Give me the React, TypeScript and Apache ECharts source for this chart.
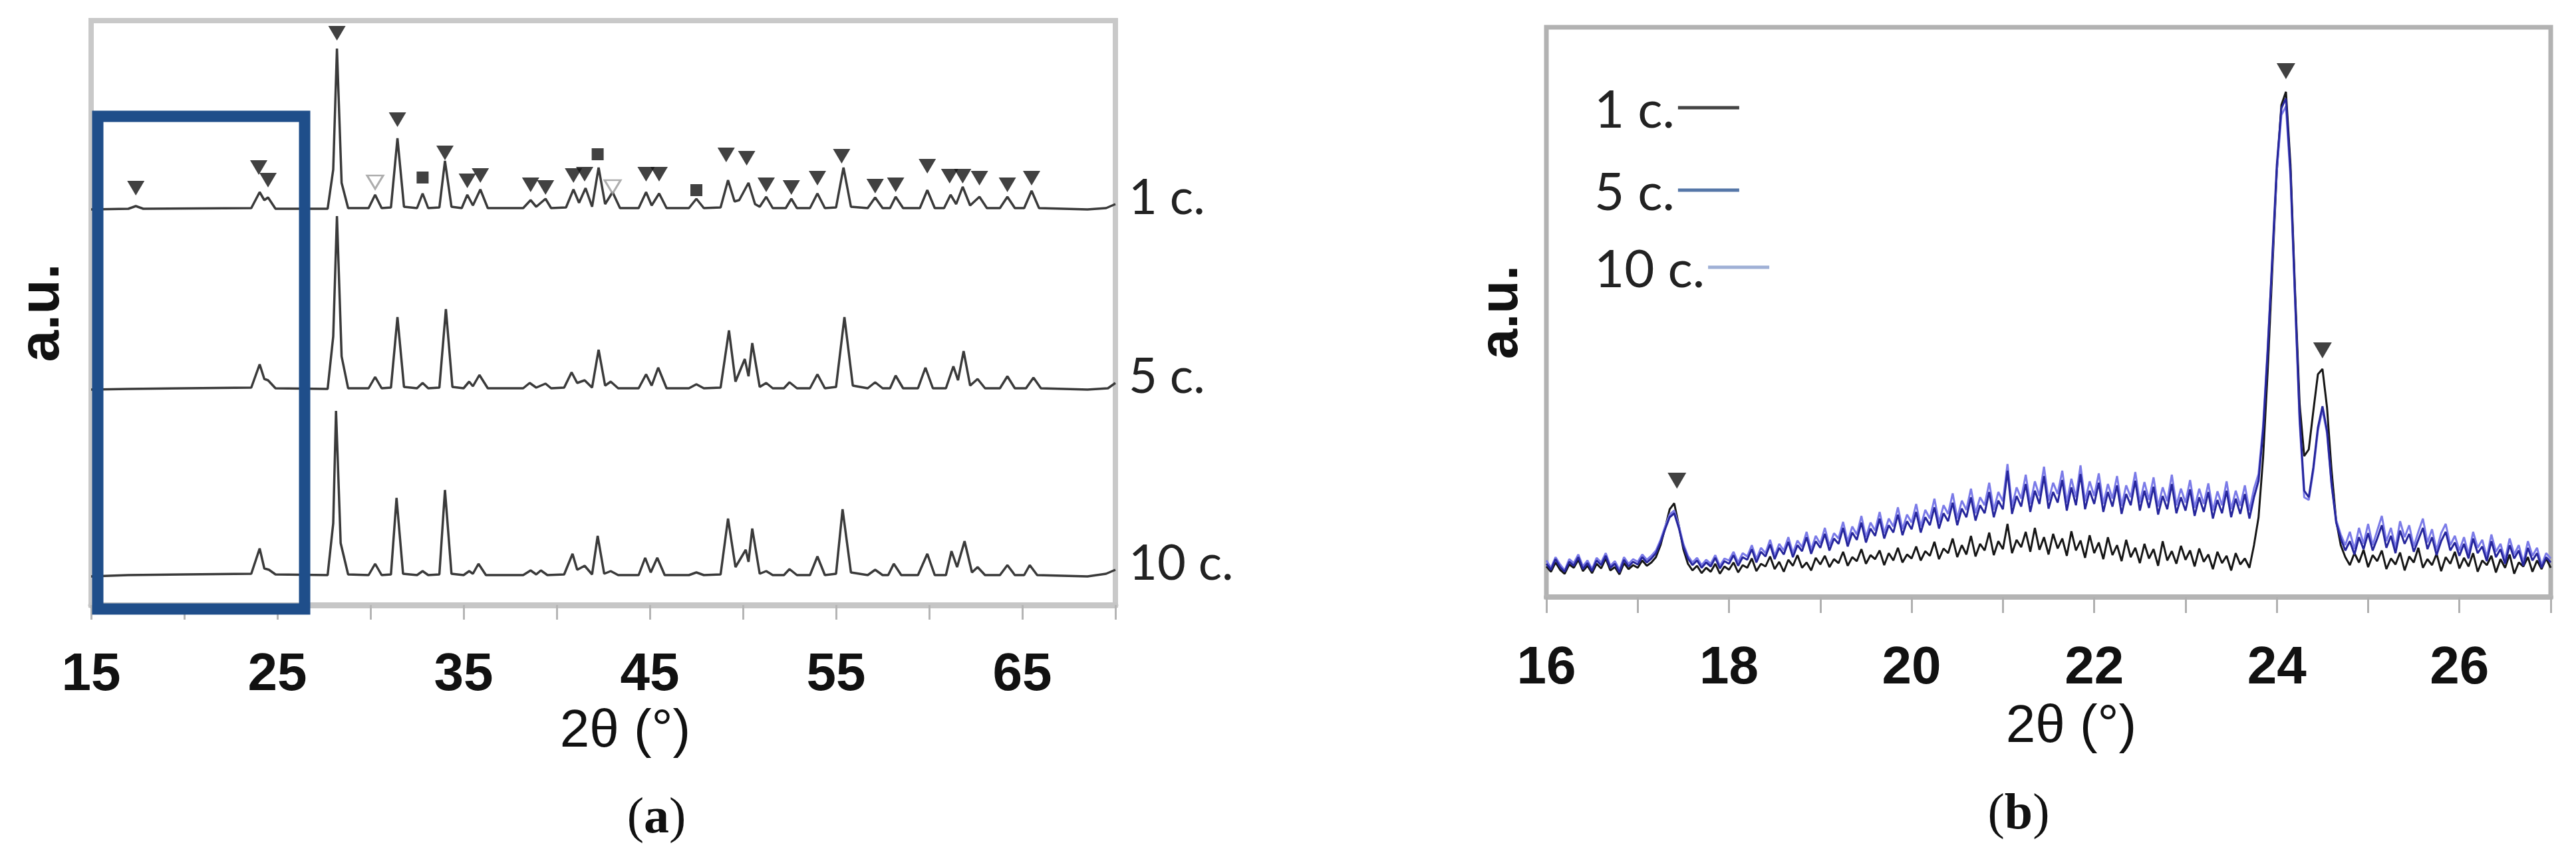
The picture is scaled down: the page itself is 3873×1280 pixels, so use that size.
import React, { useEffect, useRef } from 'react';
import * as echarts from 'echarts';

// ---------- Panel (a): wide-range XRD patterns (2θ, intensity above own baseline) ----------
const A_NAMES = ['1 c.', '5 c.', '10 c.'];
const A_OFFSETS = [595, 324, 43];

const A_1C: [number, number][] = [
  [15.0, 0], [17.0, 1], [17.4, 5], [17.8, 1], [23.6, 2], [24.05, 26], [24.3, 14], [24.5, 18], [24.9, 1],
  [27.7, 1], [28.0, 60], [28.2, 242], [28.45, 40], [28.8, 2], [29.9, 2], [30.25, 22], [30.6, 2], [31.1, 3],
  [31.45, 107], [31.8, 4], [32.5, 2], [32.8, 24], [33.1, 2], [33.7, 3], [34.0, 73], [34.35, 4], [34.9, 2],
  [35.2, 22], [35.5, 6], [35.9, 30], [36.3, 2], [38.2, 2], [38.6, 14], [38.9, 4], [39.4, 16], [39.7, 2],
  [40.5, 3], [40.9, 30], [41.2, 10], [41.55, 32], [41.9, 4], [42.25, 63], [42.6, 8], [43.0, 26], [43.4, 2],
  [44.4, 2], [44.8, 26], [45.1, 6], [45.5, 24], [45.9, 2], [47.1, 2], [47.5, 16], [47.9, 2], [48.8, 3],
  [49.2, 44], [49.55, 12], [49.8, 14], [50.3, 40], [50.65, 8], [50.9, 4], [51.25, 19], [51.6, 2], [52.3, 2],
  [52.6, 16], [52.9, 2], [53.6, 2], [54.0, 24], [54.4, 2], [55.0, 3], [55.4, 63], [55.8, 4], [56.7, 2],
  [57.1, 18], [57.5, 2], [57.9, 2], [58.2, 19], [58.6, 2], [59.5, 2], [59.9, 29], [60.3, 2], [60.8, 2],
  [61.15, 22], [61.45, 8], [61.8, 34], [62.2, 6], [62.7, 19], [63.1, 2], [63.8, 2], [64.2, 19], [64.6, 2],
  [65.1, 2], [65.5, 28], [65.9, 2], [68.5, 0], [69.5, 2], [70.0, 8],
];

const A_5C: [number, number][] = [
  [15.0, 0], [17.0, 1], [23.6, 3], [24.05, 38], [24.3, 16], [24.5, 14], [24.9, 2], [27.7, 1], [28.0, 80],
  [28.2, 261], [28.45, 50], [28.8, 2], [29.9, 2], [30.25, 19], [30.6, 2], [31.1, 3], [31.45, 109], [31.8, 4],
  [32.5, 2], [32.8, 10], [33.1, 2], [33.7, 3], [34.05, 121], [34.4, 4], [35.0, 2], [35.3, 12], [35.5, 5],
  [35.85, 22], [36.3, 2], [38.2, 2], [38.55, 10], [38.9, 3], [39.4, 9], [39.7, 2], [40.4, 3], [40.8, 26],
  [41.1, 10], [41.5, 14], [41.9, 3], [42.25, 60], [42.6, 6], [42.9, 12], [43.3, 2], [44.4, 2], [44.8, 23],
  [45.1, 6], [45.45, 33], [45.9, 2], [47.1, 2], [47.5, 8], [47.9, 2], [48.8, 3], [49.25, 89], [49.6, 12],
  [50.1, 46], [50.3, 20], [50.5, 70], [50.9, 4], [51.25, 10], [51.6, 2], [52.2, 2], [52.5, 11], [52.9, 2],
  [53.6, 2], [54.0, 23], [54.4, 2], [55.0, 4], [55.45, 109], [55.9, 6], [56.7, 2], [57.1, 11], [57.5, 2],
  [57.9, 2], [58.2, 21], [58.6, 2], [59.4, 2], [59.8, 33], [60.2, 2], [60.9, 2], [61.3, 35], [61.55, 14],
  [61.85, 58], [62.2, 6], [62.6, 16], [63.0, 2], [63.8, 2], [64.2, 20], [64.6, 2], [65.2, 2], [65.6, 18],
  [66.0, 2], [68.5, 0], [69.6, 2], [70.0, 10],
];

const A_10C: [number, number][] = [
  [15.0, 0], [17.0, 2], [20.0, 3], [23.6, 4], [24.05, 42], [24.3, 12], [24.55, 10], [24.9, 3], [27.7, 2],
  [28.0, 80], [28.15, 249], [28.4, 50], [28.8, 3], [29.9, 2], [30.25, 19], [30.6, 2], [31.1, 3], [31.4, 118],
  [31.75, 4], [32.5, 2], [32.8, 8], [33.1, 2], [33.7, 3], [34.0, 130], [34.35, 4], [35.0, 2], [35.3, 8],
  [35.5, 4], [35.8, 19], [36.2, 2], [38.2, 2], [38.6, 9], [38.9, 3], [39.15, 9], [39.5, 2], [40.4, 3],
  [40.85, 34], [41.1, 10], [41.5, 16], [41.9, 3], [42.2, 61], [42.55, 4], [42.9, 8], [43.3, 2], [44.4, 2],
  [44.75, 28], [45.05, 6], [45.4, 28], [45.8, 2], [47.1, 2], [47.5, 6], [47.9, 2], [48.8, 3], [49.2, 87],
  [49.6, 14], [50.15, 40], [50.3, 22], [50.5, 72], [50.9, 4], [51.25, 8], [51.6, 2], [52.2, 2], [52.5, 11],
  [52.9, 2], [53.6, 2], [54.0, 30], [54.4, 2], [55.0, 4], [55.35, 101], [55.8, 6], [56.7, 2], [57.1, 10],
  [57.5, 2], [57.8, 2], [58.1, 19], [58.5, 2], [59.4, 2], [59.9, 34], [60.3, 2], [60.9, 2], [61.2, 38],
  [61.5, 14], [61.9, 53], [62.3, 6], [62.6, 14], [63.0, 2], [63.8, 2], [64.2, 17], [64.6, 2], [65.1, 2],
  [65.4, 17], [65.8, 2], [68.5, 0], [69.5, 4], [70.0, 10],
];

// phase markers for the 1 c. pattern (2θ, height on the panel's scale)
const A_MARK_TRI: [number, number][] = [
  [17.4, 627], [24.0, 658], [24.5, 639], [28.2, 860], [31.45, 730], [34.0, 680], [35.2, 638], [35.9, 646],
  [38.6, 632], [39.4, 628], [40.9, 646], [41.5, 648], [44.8, 648], [45.5, 648], [49.1, 677], [50.2, 672],
  [51.25, 632], [52.6, 628], [54.0, 642], [55.3, 675], [57.1, 630], [58.2, 632], [59.9, 660], [61.1, 645],
  [61.8, 645], [62.7, 642], [64.2, 632], [65.5, 642],
];
const A_MARK_SQ: [number, number][] = [[32.8, 643], [42.2, 678], [47.5, 624]];
const A_MARK_OPEN: [number, number][] = [[30.25, 636], [43.0, 629]];

const A_TICK_LABELS = [15, 25, 35, 45, 55, 65];

// ---------- Panel (b): 16–27° detail, sampled every 0.05° ----------
const B_START = 16;
const B_STEP = 0.05;
const B_NAMES = ['1 c.', '5 c.', '10 c.'];

const B_1C = [
  46, 38, 52, 41, 35, 49, 44, 56, 39, 47, 36, 50, 43, 58, 40, 45, 34, 51, 42, 48,
  44, 55, 47, 52, 60, 78, 104, 132, 141, 108, 72, 50, 40, 47, 36, 44, 38, 50, 35, 46,
  41, 52, 37, 48, 44, 58, 39, 50, 46, 61, 42, 53, 38, 56, 47, 63, 44, 52, 40, 59,
  49, 62, 45, 57, 51, 68, 47, 60, 54, 72, 50, 63, 57, 70, 48, 66, 55, 74, 52, 64,
  58, 76, 55, 69, 62, 83, 57, 73, 66, 88, 60, 78, 64, 92, 61, 80, 70, 97, 63, 84,
  72, 110, 66, 86, 75, 98, 68, 104, 71, 90, 64, 95, 73, 88, 62, 99, 70, 85, 59, 93,
  66, 82, 57, 90, 63, 78, 54, 86, 60, 74, 51, 80, 58, 72, 47, 84, 55, 69, 50, 77,
  56, 70, 46, 73, 53, 64, 42, 68, 51, 62, 40, 66, 49, 58, 44, 78, 120, 210, 340, 490,
  640, 740, 760, 650, 460, 290, 212, 222, 280, 335, 343, 285, 190, 115, 78, 60, 48, 66, 52, 71,
  45, 63, 54, 70, 42, 58, 49, 67, 40, 61, 52, 74, 44, 57, 48, 65, 39, 60, 50, 68,
  43, 59, 46, 66, 38, 55, 48, 62, 37, 57, 44, 64, 35, 52, 46, 60, 38, 55, 42, 58,
  44,
];

const B_5C = [
  50, 41, 57, 45, 38, 53, 47, 60, 42, 51, 39, 55, 48, 62, 44, 50, 37, 56, 46, 53,
  49, 60, 52, 58, 66, 82, 102, 120, 126, 104, 76, 58, 48, 55, 44, 52, 46, 59, 43, 54,
  50, 63, 47, 60, 56, 72, 52, 68, 61, 79, 57, 74, 64, 83, 60, 78, 69, 90, 65, 84,
  74, 95, 70, 88, 80, 104, 76, 97, 86, 112, 82, 103, 92, 118, 88, 108, 97, 124, 93, 114,
  102, 128, 97, 120, 108, 135, 103, 126, 114, 142, 108, 133, 120, 150, 115, 138, 126, 158, 120, 145,
  132, 190, 125, 152, 136, 170, 128, 160, 140, 182, 133, 158, 142, 176, 130, 165, 138, 185, 132, 160,
  140, 172, 128, 158, 136, 168, 125, 155, 138, 175, 130, 160, 134, 166, 124, 152, 132, 170, 126, 150,
  130, 162, 122, 150, 128, 158, 118, 146, 126, 160, 120, 148, 125, 155, 118, 150, 175, 250, 370, 510,
  650, 735, 750, 640, 450, 270, 160, 150, 195, 255, 287, 250, 170, 112, 88, 70, 84, 64, 90, 72,
  96, 70, 88, 108, 74, 92, 66, 100, 80, 95, 68, 86, 104, 72, 90, 63, 84, 98, 70, 82,
  62, 80, 58, 88, 66, 76, 54, 84, 60, 72, 50, 78, 58, 70, 47, 74, 55, 66, 44, 60,
  52,
];

const B_10C = [
  55, 44, 60, 49, 40, 57, 51, 64, 46, 55, 42, 59, 52, 66, 47, 54, 41, 60, 50, 57,
  53, 64, 56, 62, 70, 86, 106, 124, 130, 108, 80, 62, 52, 59, 48, 56, 50, 63, 47, 58,
  55, 68, 52, 66, 61, 78, 57, 74, 66, 86, 62, 80, 70, 90, 66, 85, 75, 98, 71, 92,
  80, 104, 77, 96, 88, 113, 83, 106, 94, 122, 90, 112, 100, 128, 96, 118, 106, 135, 102, 124,
  112, 140, 106, 131, 118, 148, 112, 138, 125, 156, 118, 145, 131, 163, 126, 150, 138, 172, 131, 158,
  144, 200, 136, 165, 148, 184, 140, 174, 152, 196, 145, 172, 155, 190, 142, 178, 150, 198, 144, 174,
  152, 186, 140, 170, 148, 182, 137, 168, 150, 188, 142, 173, 146, 180, 136, 165, 144, 184, 138, 163,
  142, 176, 134, 163, 140, 171, 130, 159, 138, 174, 132, 160, 137, 168, 130, 163, 185, 258, 375, 505,
  640, 725, 738, 630, 445, 262, 150, 146, 190, 250, 282, 246, 168, 116, 94, 78, 98, 72, 104, 80,
  110, 78, 100, 122, 84, 104, 74, 114, 90, 108, 76, 98, 118, 82, 102, 70, 96, 110, 78, 92,
  70, 90, 64, 98, 74, 86, 60, 94, 68, 80, 56, 88, 64, 78, 52, 84, 62, 74, 48, 66,
  58,
];

const B_MARK_TRI: [number, number][] = [[17.43, 175], [24.1, 791], [24.5, 371]];
const B_TICK_LABELS = [16, 18, 20, 22, 24, 26];

const SANS = 'Liberation Sans, Arial, sans-serif';
const LABEL_FONT = 'Lato, "Open Sans", sans-serif';

export default function App() {
  const ref = useRef<HTMLDivElement>(null);

  useEffect(() => {
    if (!ref.current) return;
    const chart = echarts.init(ref.current, null, { renderer: 'svg' });

    const aData = [A_1C, A_5C, A_10C];
    const bData = [B_1C, B_5C, B_10C];
    const bColors = ['#161616', '#26269c', '#7b7be8'];
    const legendColors = ['#444444', '#5677a8', '#9fb0d6'];
    const legendTops = [104, 228, 344];
    const bx = (i: number) => +(B_START + i * B_STEP).toFixed(2);

    const axisNameStyle = { fontSize: 80, fontFamily: SANS, color: '#111' };
    const tickLabelStyle = { fontSize: 80, fontWeight: 'bold' as const, fontFamily: SANS, color: '#111' };

    const aSeries = A_NAMES.map((name, k) => ({
      type: 'line',
      name: 'a-' + name,
      xAxisIndex: 0,
      yAxisIndex: 0,
      data: aData[k].map(([x, y]) => [x, y + A_OFFSETS[k]]),
      symbol: 'none',
      showSymbol: false,
      silent: true,
      lineStyle: { color: '#3a3a3a', width: 3.5 },
      z: 3,
      endLabel: {
        show: true,
        formatter: () => name,
        distance: 20,
        offset: [0, -14],
        fontSize: 74,
        fontFamily: LABEL_FONT,
        color: '#222',
      },
    }));

    // draw order: 1 c. underneath, then 10 c., then 5 c. on top
    const bSeries = [0, 2, 1].map((k) => ({
      type: 'line',
      name: B_NAMES[k],
      xAxisIndex: 1,
      yAxisIndex: 1,
      data: bData[k].map((v, i) => [bx(i), v]),
      symbol: 'none',
      showSymbol: false,
      silent: true,
      lineStyle: { color: bColors[k], width: 3 },
      itemStyle: { color: bColors[k] },
      z: 3,
    }));

    const legends = B_NAMES.map((n, k) => ({
      data: [{ name: n, icon: 'rect', itemStyle: { color: legendColors[k] } }],
      orient: 'horizontal',
      left: 2392,
      top: legendTops[k],
      align: 'right',
      itemWidth: 92,
      itemHeight: 5,
      selectedMode: false,
      textStyle: { fontSize: 78, lineHeight: 78, fontFamily: LABEL_FONT, color: '#222', padding: [0, 0, 28, 0] },
    }));

    const option: any = {
      animation: false,
      backgroundColor: '#ffffff',
      grid: [
        { left: 137, top: 31, width: 1540, height: 879, show: true, borderColor: '#c9c9c9', borderWidth: 8, backgroundColor: 'transparent' },
        { left: 2325, top: 41, width: 1510, height: 857, show: true, borderColor: '#b2b2b2', borderWidth: 7, backgroundColor: 'transparent' },
      ],
      xAxis: [
        {
          gridIndex: 0, type: 'value', min: 15, max: 70, interval: 5,
          axisLine: { show: true, onZero: false, lineStyle: { color: '#c6c6c6', width: 9 } },
          axisTick: { show: true, length: 22, lineStyle: { color: '#b5b5b5', width: 3 } },
          axisLabel: { ...tickLabelStyle, margin: 60, formatter: (v: number) => (A_TICK_LABELS.includes(v) ? String(v) : '') },
          splitLine: { show: false },
          name: '2θ (°)', nameLocation: 'middle', nameGap: 145,
          nameTextStyle: { ...axisNameStyle, padding: [0, 0, 0, 66] },
        },
        {
          gridIndex: 1, type: 'value', min: 16, max: 27, interval: 1,
          axisLine: { show: true, onZero: false, lineStyle: { color: '#b4b4b4', width: 8 } },
          axisTick: { show: true, length: 24, lineStyle: { color: '#b0b0b0', width: 3 } },
          axisLabel: { ...tickLabelStyle, margin: 62, formatter: (v: number) => (B_TICK_LABELS.includes(v) ? String(v) : '') },
          splitLine: { show: false },
          name: '2θ (°)', nameLocation: 'middle', nameGap: 150,
          nameTextStyle: { ...axisNameStyle, padding: [0, 0, 0, 68] },
        },
      ],
      yAxis: [
        {
          gridIndex: 0, type: 'value', min: 0, max: 879,
          axisLine: { show: false }, axisTick: { show: false }, axisLabel: { show: false }, splitLine: { show: false },
          name: 'a.u.', nameLocation: 'middle', nameGap: 36, nameRotate: 90,
          nameTextStyle: { fontSize: 86, fontWeight: 'bold', fontFamily: SANS, color: '#111' },
        },
        {
          gridIndex: 1, type: 'value', min: 0, max: 857,
          axisLine: { show: false }, axisTick: { show: false }, axisLabel: { show: false }, splitLine: { show: false },
          name: 'a.u.', nameLocation: 'middle', nameGap: 32, nameRotate: 90,
          nameTextStyle: { fontSize: 82, fontWeight: 'bold', fontFamily: SANS, color: '#111' },
        },
      ],
      legend: legends,
      series: [
        ...aSeries,
        {
          type: 'scatter', name: 'a-tri', xAxisIndex: 0, yAxisIndex: 0, data: A_MARK_TRI,
          symbol: 'triangle', symbolRotate: 180, symbolSize: [26, 22], silent: true,
          itemStyle: { color: '#111' }, z: 4,
        },
        {
          type: 'scatter', name: 'a-sq', xAxisIndex: 0, yAxisIndex: 0, data: A_MARK_SQ,
          symbol: 'rect', symbolSize: 18, silent: true, itemStyle: { color: '#111' }, z: 4,
        },
        {
          type: 'scatter', name: 'a-open', xAxisIndex: 0, yAxisIndex: 0, data: A_MARK_OPEN,
          symbol: 'triangle', symbolRotate: 180, symbolSize: [24, 20], silent: true,
          itemStyle: { color: '#ffffff', borderColor: '#9a9a9a', borderWidth: 3 }, z: 4,
        },
        ...bSeries,
        {
          type: 'scatter', name: 'b-tri', xAxisIndex: 1, yAxisIndex: 1, data: B_MARK_TRI,
          symbol: 'triangle', symbolRotate: 180, symbolSize: [28, 24], silent: true,
          itemStyle: { color: '#111' }, z: 4,
        },
      ],
      graphic: [
        {
          type: 'rect', z: 100,
          shape: { x: 147, y: 175, width: 311, height: 741 },
          style: { fill: 'none', stroke: '#1f4e8a', lineWidth: 17 },
        },
        {
          type: 'text', z: 100, x: 987, y: 1226,
          style: {
            text: '({b|a})', fontSize: 76, fontFamily: 'Liberation Serif, serif', fill: '#111',
            align: 'center', verticalAlign: 'middle',
            rich: { b: { fontSize: 76, fontWeight: 'bold', fontFamily: 'Liberation Serif, serif', fill: '#111' } },
          },
        },
        {
          type: 'text', z: 100, x: 3035, y: 1220,
          style: {
            text: '({b|b})', fontSize: 76, fontFamily: 'Liberation Serif, serif', fill: '#111',
            align: 'center', verticalAlign: 'middle',
            rich: { b: { fontSize: 76, fontWeight: 'bold', fontFamily: 'Liberation Serif, serif', fill: '#111' } },
          },
        },
      ],
    };

    chart.setOption(option);
    return () => chart.dispose();
  }, []);

  return (
    <div
      ref={ref}
      style={{ position: 'absolute', left: 0, top: 0, width: 3873, height: 1280, background: '#ffffff' }}
    />
  );
}
